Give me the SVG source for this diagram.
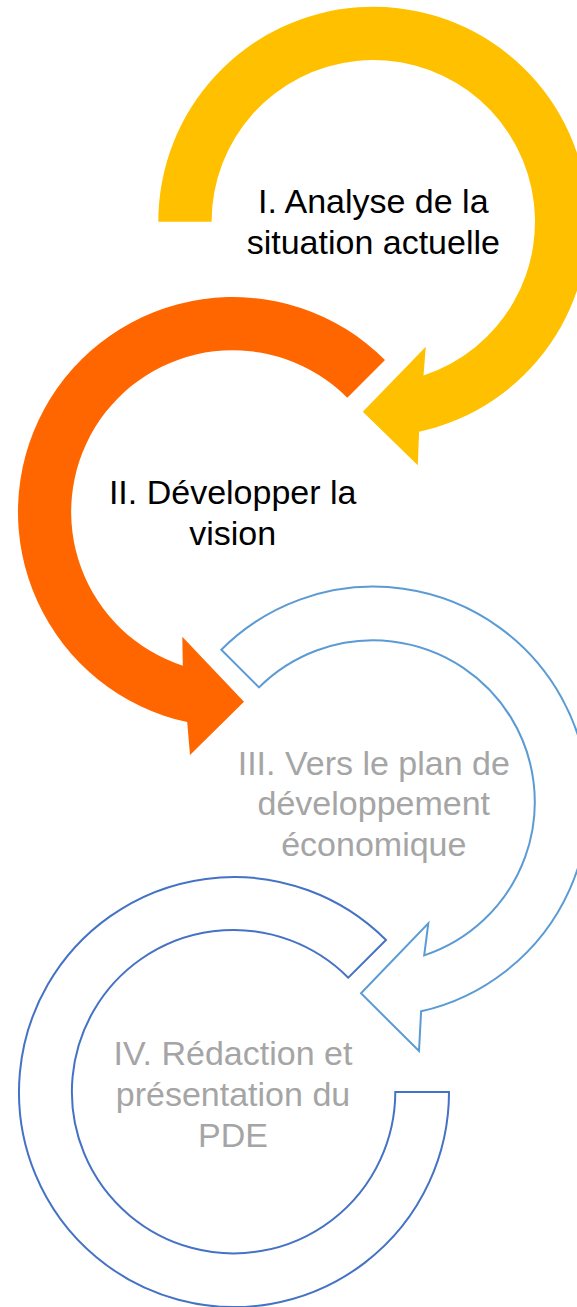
<svg xmlns="http://www.w3.org/2000/svg" width="577" height="1307" viewBox="0 0 577 1307">
<style>
.lbl{font-family:"Liberation Sans",Arial,sans-serif;font-size:34px;text-anchor:middle}
.dark{fill:#000000}
.grey{fill:#A5A5A5}
.outline{fill:#FFFFFF;stroke-width:2;stroke-linejoin:miter}
</style>
<rect width="577" height="1307" fill="#FFFFFF"/>
<g id="step1">
<path fill="#FFC000" d="M158.3,221.7 A215,215 0 1 1 419.1,431.8 L417.8,465.2 L362.8,411.7 L425.8,346.7 L423.5,375.4 A161.7,161.7 0 1 0 211.6,221.7 Z"/>
<text class="lbl dark" x="373.3" y="213">I. Analyse de la</text>
<text class="lbl dark" x="373.3" y="254">situation actuelle</text>
</g>
<g id="step2">
<path fill="#FF6600" d="M385,360 A215,215 0 1 0 187.2,722.1 L190,755 L244,701.7 L182.3,636.7 L182.8,665.7 A161.7,161.7 0 1 1 347.3,397.7 Z"/>
<text class="lbl dark" x="232.7" y="503.5">II. Développer la</text>
<text class="lbl dark" x="232.7" y="545">vision</text>
</g>
<g id="step3">
<path class="outline" stroke="#5B9BD5" d="M221.3,649.7 A215,215 0 1 1 421.1,1011.3 L419,1051 L361,993.3 L428.3,923.3 L424.2,955.4 A161.7,161.7 0 1 0 259,687.4 Z"/>
<text class="lbl grey" x="373.8" y="774.5">III. Vers le plan de</text>
<text class="lbl grey" x="373.8" y="815">développement</text>
<text class="lbl grey" x="373.8" y="856">économique</text>
</g>
<g id="step4">
<path class="outline" stroke="#4472C4" d="M386,940 A215,215 0 1 0 449,1092 L395.3,1092 A161.7,161.7 0 1 1 348.3,977.7 Z"/>
<text class="lbl grey" x="233" y="1065">IV. Rédaction et</text>
<text class="lbl grey" x="233" y="1106">présentation du</text>
<text class="lbl grey" x="233" y="1147">PDE</text>
</g>
<g id="connectors"/>
</svg>
